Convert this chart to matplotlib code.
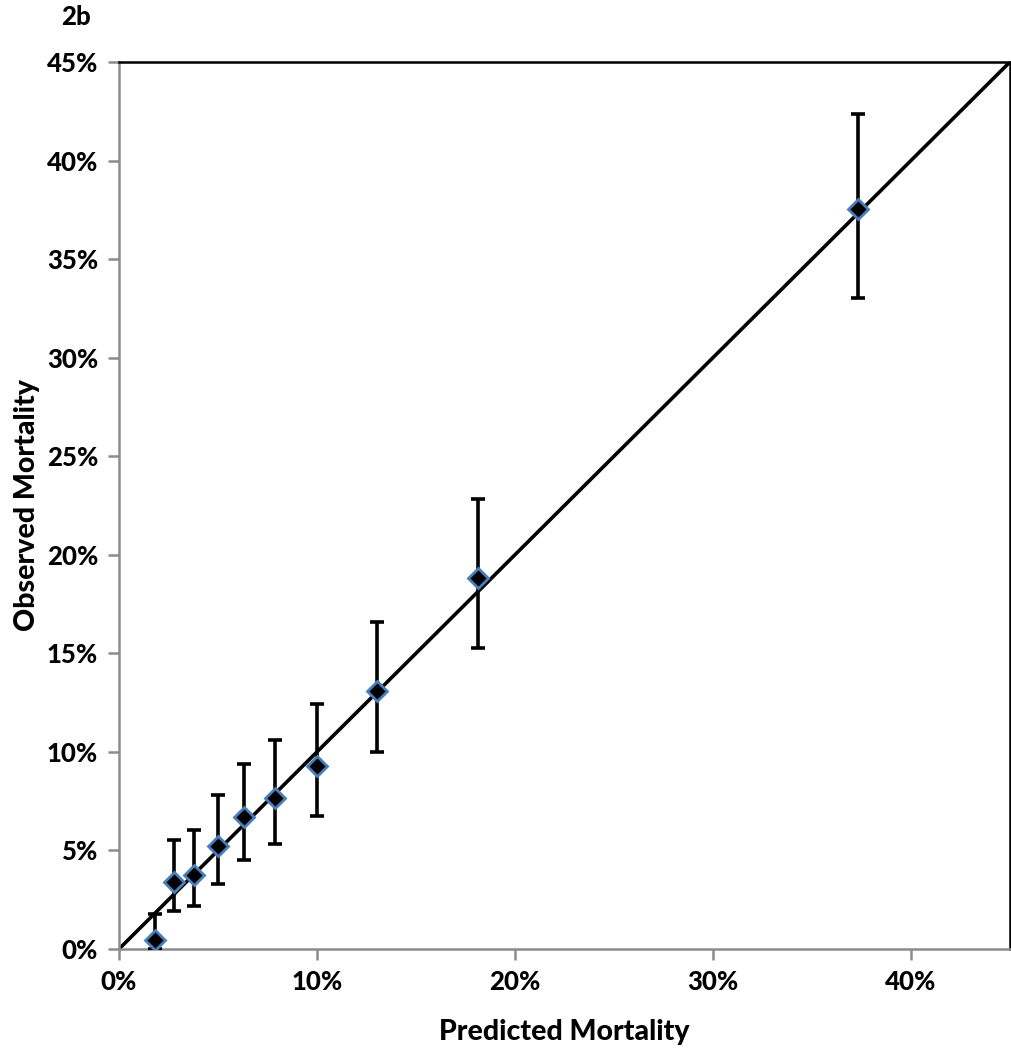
import numpy as np
import matplotlib.pyplot as plt
from matplotlib.ticker import FuncFormatter

plt.rcParams['font.family'] = ['Lato', 'DejaVu Sans']

# Datos (en %)
predicted = [1.8, 2.8, 3.8, 5.0, 6.3, 7.9, 10.0, 13.05, 18.15, 37.3]
observed = [0.45, 3.4, 3.75, 5.25, 6.7, 7.65, 9.3, 13.1, 18.8, 37.55]
ci_low = [0.0, 1.95, 2.2, 3.3, 4.5, 5.35, 6.75, 10.0, 15.25, 33.0]
ci_high = [1.75, 5.55, 6.05, 7.8, 9.4, 10.6, 12.45, 16.6, 22.85, 42.35]

predicted = np.array(predicted)
observed = np.array(observed)
err = [observed - np.array(ci_low), np.array(ci_high) - observed]

fig = plt.figure(figsize=(10.12, 10.5), dpi=100)
ax = fig.add_axes([0.1176, 0.0962, 0.8804, 0.8448])

ax.plot([0, 45], [0, 45], color='black', lw=2.6, zorder=2)
ax.errorbar(predicted, observed, yerr=err, fmt='none', ecolor='black',
            elinewidth=2.6, capsize=5, capthick=2.6, zorder=3)
ax.plot(predicted, observed, linestyle='none', marker='D', markersize=10,
        markerfacecolor='black', markeredgecolor='#4a7ebb', markeredgewidth=2, zorder=4)

ax.set_xlim(0, 45)
ax.set_ylim(0, 45)
ax.set_xticks([0, 10, 20, 30, 40])
ax.set_yticks(np.arange(0, 46, 5))
pct = FuncFormatter(lambda v, p: f"{v:.0f}%")
ax.xaxis.set_major_formatter(pct)
ax.yaxis.set_major_formatter(pct)

for s in ['left', 'bottom']:
    ax.spines[s].set_color('#8c8c8c')
    ax.spines[s].set_linewidth(1.8)
for s in ['top', 'right']:
    ax.spines[s].set_color('black')
    ax.spines[s].set_linewidth(1.8)

ax.tick_params(axis='both', direction='out', length=8, width=1.8, color='#8c8c8c',
               labelsize=18.5, pad=7)
for lab in ax.get_xticklabels() + ax.get_yticklabels():
    lab.set_fontweight('black')

ax.set_xlabel("Predicted Mortality", fontsize=20.5, fontweight='black', labelpad=18)
ax.set_ylabel("Observed Mortality", fontsize=20.5, fontweight='black', labelpad=5)

fig.text(0.075, 0.995, "2b", fontsize=18.5, fontweight='black', ha='center', va='top')

fig.savefig("out.png", dpi=100, facecolor='white')
